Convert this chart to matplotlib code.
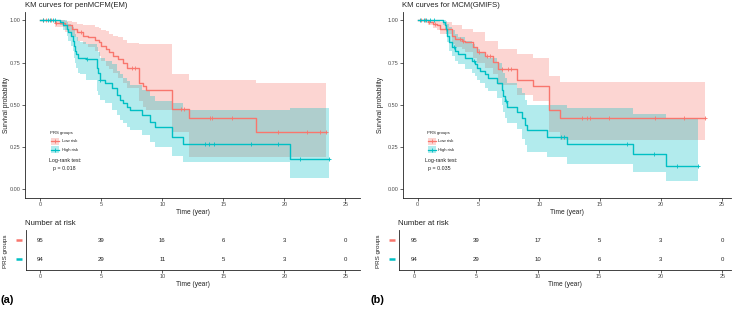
import numpy as np
import matplotlib
matplotlib.use("Agg")
import matplotlib.pyplot as plt
from matplotlib.patches import Rectangle
from matplotlib.lines import Line2D

plt.rcParams['font.family'] = ['Liberation Sans', 'DejaVu Sans']

RED = '#F8766D'
CYAN = '#00BFC4'

# ---------------- data: panel (a) penMCFM(EM) ----------------
a_low_t = [0, 1.2, 2.0, 2.6, 3.0, 3.5, 3.9, 4.5, 4.8, 5.0, 5.4, 5.6, 6.0, 6.4, 6.8, 7.1, 8.1, 8.45, 8.7, 10.8, 12.2, 17.7, 23.4]
a_low_s = [1, .985, .97, .95, .93, .91, .90, .885, .87, .85, .83, .81, .79, .77, .75, .72, .63, .61, .59, .475, .425, .34, .34]
a_low_u = [1, 1, .995, .99, .98, .975, .97, .96, .955, .945, .935, .92, .91, .90, .885, .865, .86, .86, .86, .68, .645, .63, .63]
a_low_l = [1, .96, .93, .90, .88, .86, .84, .82, .79, .76, .73, .71, .69, .66, .63, .60, .52, .49, .47, .34, .19, .19, .19]
a_low_cens = [0.2, 0.5, 0.9, 1.3, 3.3, 7.5, 7.8, 11.5, 11.8, 13.9, 14.1, 15.7, 19.45, 21.9, 22.95, 23.4]

a_high_t = [0, 1.61, 1.89, 2.16, 2.3, 2.49, 2.65, 2.76, 2.84, 2.93, 3.12, 3.26, 3.75, 4.62, 4.76, 4.9, 5.31, 5.85, 6.26, 6.54, 6.81, 7.08, 7.36, 8.32, 9.0, 9.41, 10.78, 11.73, 20.43, 23.63]
a_high_s = [1, .99, .97, .95, .93, .91, .88, .85, .82, .80, .78, .775, .77, .72, .69, .65, .63, .60, .56, .53, .51, .49, .47, .44, .40, .37, .31, .27, .18, .18]
a_high_u = [1, 1, 1, .99, .98, .97, .96, .94, .92, .90, .88, .87, .86, .84, .81, .78, .76, .74, .70, .68, .66, .64, .62, .59, .55, .52, .51, .47, .48, .48]
a_high_l = [1, .97, .94, .91, .88, .85, .82, .78, .75, .72, .69, .68, .65, .58, .56, .53, .51, .47, .44, .41, .39, .37, .35, .32, .28, .25, .20, .16, .07, .07]
a_high_cens = [0.2, 0.6, 0.8, 1.0, 1.2, 3.86, 4.9, 13.46, 13.8, 14.2, 17.26, 19.45, 21.3, 23.63]

a_risk_low = [95, 39, 16, 6, 3, 0]
a_risk_high = [94, 29, 11, 5, 3, 0]
a_pval = "p = 0.018"

# ---------------- data: panel (b) MCM(GMIFS) ----------------
b_low_t = [0, 0.88, 1.29, 1.56, 1.84, 2.8, 3.07, 3.62, 3.89, 4.58, 4.85, 5.54, 6.22, 6.63, 8.14, 9.46, 10.8, 11.7, 23.63]
b_low_s = [1, .99, .98, .97, .95, .91, .89, .88, .87, .84, .815, .79, .755, .71, .645, .61, .47, .425, .425]
b_low_u = [1, 1, 1, .995, .99, .97, .97, .95, .95, .93, .93, .88, .88, .83, .80, .78, .67, .635, .635]
b_low_l = [1, .975, .955, .94, .92, .86, .84, .83, .81, .78, .75, .72, .68, .62, .56, .52, .34, .29, .29]
b_low_cens = [0.3, 0.6, 0.9, 1.4, 2.3, 3.5, 3.75, 5.0, 5.7, 5.95, 6.9, 7.4, 7.7, 13.5, 13.9, 14.2, 15.75, 19.5, 21.9, 23.63]

b_high_t = [0, 2.11, 2.25, 2.33, 2.44, 2.58, 2.8, 3.07, 3.34, 3.89, 4.44, 4.72, 4.91, 5.13, 5.54, 5.81, 6.5, 6.91, 7.04, 7.18, 7.32, 8.14, 8.55, 8.83, 8.96, 10.61, 12.25, 17.74, 20.42, 23.03]
b_high_s = [1, .99, .97, .95, .91, .87, .84, .82, .80, .78, .76, .74, .72, .70, .68, .66, .63, .59, .55, .52, .49, .46, .42, .38, .35, .31, .27, .21, .14, .14]
b_high_u = [1, 1, 1, .995, .98, .96, .94, .92, .90, .88, .86, .845, .83, .81, .79, .78, .75, .72, .69, .66, .63, .60, .57, .53, .50, .50, .48, .445, .42, .42]
b_high_l = [1, .97, .95, .92, .87, .82, .79, .76, .74, .71, .69, .67, .65, .63, .60, .58, .54, .50, .46, .42, .39, .36, .30, .26, .22, .19, .15, .105, .05, .05]
b_high_cens = [0.15, 0.5, 0.7, 1.0, 1.3, 3.0, 4.6, 7.3, 11.75, 12.0, 17.2, 19.4, 21.3, 23.03]

b_risk_low = [95, 39, 17, 5, 3, 0]
b_risk_high = [94, 29, 10, 6, 3, 0]
b_pval = "p = 0.035"

risk_times = [0, 5, 10, 15, 20, 25]
group_labels = ["Low risk", "High risk"]
titles = ["KM curves for penMCFM(EM)", "KM curves for MCM(GMIFS)"]
panel_tags = ["(a)", "(b)"]

W, H = 740, 312
fig = plt.figure(figsize=(W / 100, H / 100), dpi=100)


def fx(x):
    return x / W


def fy(y):
    return 1 - y / H


def add_axes_px(l, t, r, b):
    return fig.add_axes([fx(l), fy(b), (r - l) / W, (b - t) / H])


def step_val(ts, ss, x):
    i = np.searchsorted(ts, x, side='right') - 1
    return ss[max(i, 0)]


def style_axes(ax):
    for s in ['top', 'right']:
        ax.spines[s].set_visible(False)
    for s in ['left', 'bottom']:
        ax.spines[s].set_linewidth(0.6)
        ax.spines[s].set_color('#222222')
    ax.tick_params(length=2, width=0.5, labelsize=4, pad=1.2, colors='#222222', labelcolor='#4d4d4d')


panels = [
    dict(low=(a_low_t, a_low_s, a_low_u, a_low_l, a_low_cens), high=(a_high_t, a_high_s, a_high_u, a_high_l, a_high_cens),
         rl=a_risk_low, rh=a_risk_high, p=a_pval,
         main=(25, 11.9, 360, 197.8), t0=40.3, ppy=12.2,
         risk=(26, 230, 360, 270), rt0=40.3, rppy=12.2,
         ox=0, leg_box=50.7, leg_title=50, leg_text=61.7, lr_x=65, p_x=64.7, title_x=25, ylab_x=6.7),
    dict(low=(b_low_t, b_low_s, b_low_u, b_low_l, b_low_cens), high=(b_high_t, b_high_s, b_high_u, b_high_l, b_high_cens),
         rl=b_risk_low, rh=b_risk_high, p=b_pval,
         main=(403, 11.9, 731, 197.8), t0=417.7, ppy=12.16,
         risk=(399, 230, 731, 270), rt0=414.3, rppy=12.32,
         ox=370, leg_box=427.7, leg_title=426.7, leg_text=438.3, lr_x=441.7, p_x=439, title_x=402, ylab_x=381),
]

for k, P in enumerate(panels):
    l, t, r, b = P['main']
    ax = add_axes_px(l, t, r, b)
    style_axes(ax)
    ax.set_xlim((l - P['t0']) / P['ppy'], (r - P['t0']) / P['ppy'])
    ax.set_ylim(-0.05, 1.05)
    ax.set_xticks([0, 5, 10, 15, 20, 25])
    ax.set_yticks([0, 0.25, 0.5, 0.75, 1.0])
    ax.set_yticklabels(["0.00", "0.25", "0.50", "0.75", "1.00"])
    for key, col in (('low', RED), ('high', CYAN)):
        ts, ss, us, ls, cs = P[key]
        ax.fill_between(ts, ls, us, step='post', color=col, alpha=0.3, lw=0)
    for key, col in (('low', RED), ('high', CYAN)):
        ts, ss, us, ls, cs = P[key]
        ax.step(ts, ss, where='post', color=col, lw=1.0)
        cy = [step_val(ts, ss, c) for c in cs]
        ax.plot(cs, cy, ls='none', marker='+', ms=3, mew=0.6, color=col)
    ax.set_xlabel("Time (year)", fontsize=4.8, color='#222222', labelpad=1.5)
    fig.text(fx(P['ylab_x']), fy(105), "Survival probability", rotation=90, fontsize=4.8,
             ha='center', va='center', color='#222222')
    fig.text(fx(P['title_x']), fy(5.5), titles[k], fontsize=5.6, ha='left', va='center', color='#222222')

    # legend
    fig.text(fx(P['leg_title']), fy(132.7), "PRS groups", fontsize=3.1, ha='left', va='center', color='#222222')
    for j, (col, lab) in enumerate(((RED, group_labels[0]), (CYAN, group_labels[1]))):
        y0 = 137.7 + j * 8.3
        bx = P['leg_box']
        fig.patches.append(Rectangle((fx(bx), fy(y0 + 7.3)), 8.6 / W, 7.3 / H, transform=fig.transFigure,
                                     facecolor=col, alpha=0.3, edgecolor='none'))
        ym = y0 + 3.65
        fig.lines.append(Line2D([fx(bx), fx(bx + 8.6)], [fy(ym), fy(ym)], transform=fig.transFigure, color=col, lw=0.9))
        fig.lines.append(Line2D([fx(bx + 4.3)], [fy(ym)], transform=fig.transFigure, color=col, marker='+', ms=3, mew=0.6))
        fig.text(fx(P['leg_text']), fy(ym), lab, fontsize=3.1, ha='left', va='center', color='#222222')
    fig.text(fx(P['lr_x']), fy(160.7), "Log-rank test:", fontsize=3.8, ha='center', va='center', color='#222222')
    fig.text(fx(P['p_x']), fy(168.3), P['p'], fontsize=3.8, ha='center', va='center', color='#222222')

    # risk table
    l, t, r, b = P['risk']
    rax = add_axes_px(l, t, r, b)
    style_axes(rax)
    rax.set_xlim((l - P['rt0']) / P['rppy'], (r - P['rt0']) / P['rppy'])
    rax.set_ylim(0.42, 2.53)
    rax.set_xticks(risk_times)
    rax.set_yticks([])
    for tt, n in zip(risk_times, P['rl']):
        rax.text(tt, 2, str(n), fontsize=4.3, ha='center', va='center', color='#222222')
    for tt, n in zip(risk_times, P['rh']):
        rax.text(tt, 1, str(n), fontsize=4.3, ha='center', va='center', color='#222222')
    rax.set_xlabel("Time (year)", fontsize=4.8, color='#222222', labelpad=1.0)
    for yv, col in ((240, RED), (259, CYAN)):
        fig.lines.append(Line2D([fx(l - 10), fx(l - 4)], [fy(yv), fy(yv)], transform=fig.transFigure,
                                color=col, lw=1.8, solid_capstyle='butt'))
    fig.text(fx(l - 20.3), fy(251.7), "PRS groups", rotation=90, fontsize=4.5, ha='center', va='center', color='#222222')
    fig.text(fx(l - 1), fy(223.3), "Number at risk", fontsize=5.6, ha='left', va='center', color='#222222')
    fig.text(fx(P['ox'] + 0.5), fy(300), panel_tags[k], fontsize=7.8, fontweight='bold', ha='left', va='center', color='black')

fig.savefig("out.png", dpi=100)
